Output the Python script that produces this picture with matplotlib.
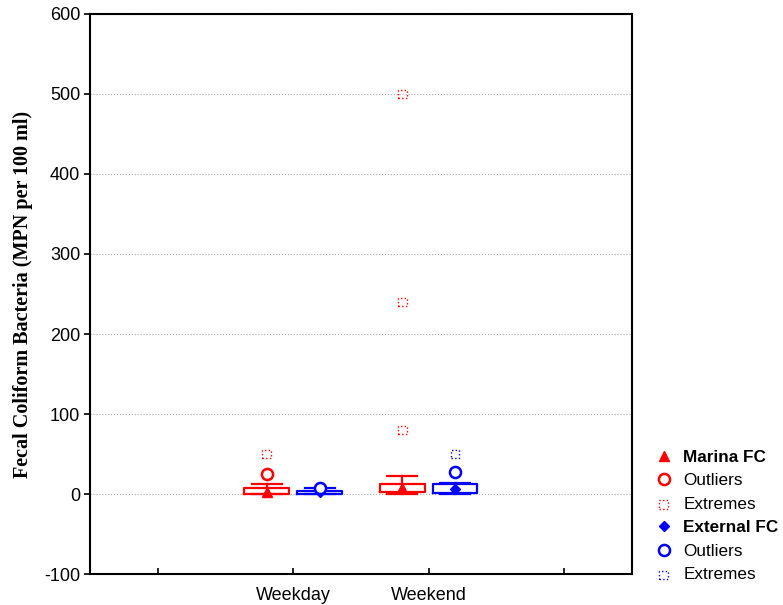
import matplotlib
matplotlib.use("Agg")
import matplotlib.pyplot as plt
from matplotlib.lines import Line2D

RED = "#ff0000"
BLUE = "#0000ff"
SANS = "Liberation Sans"
SERIF = "Liberation Serif"

categories = ["Weekday", "Weekend"]
cat_pos = [1, 2]

# box stats (MPN per 100 ml)
marina_q1 = [0, 3]
marina_q3 = [8, 13]
marina_lo = [0, 0]
marina_hi = [13, 23]
marina_med = [2, 7]
marina_out = [[25], []]
marina_ext = [[50], [80, 240, 500]]

external_q1 = [0, 1]
external_q3 = [4, 13]
external_lo = [0, 0]
external_hi = [7, 14]
external_med = [2, 6]
external_out = [[8], [28]]
external_ext = [[], [50]]

y_ticks = [-100, 0, 100, 200, 300, 400, 500, 600]

OFFSET = 0.195
BOX_W = 0.33
CAP_W = 0.22
EXT_S = 40

fig = plt.figure(figsize=(7.83, 6.05), dpi=100, facecolor="white")
ax = fig.add_axes([0.115, 0.0512, 0.692, 0.9257])


def draw_group(pos, q1, q3, lo, hi, med, outl, ext, color, med_marker, med_size):
    stats = []
    for i in range(len(pos)):
        stats.append(dict(med=med[i], q1=q1[i], q3=q3[i],
                          whislo=lo[i], whishi=hi[i], fliers=[]))
    lp = dict(color=color, linewidth=1.6)
    ax.bxp(stats, positions=pos, widths=BOX_W, capwidths=CAP_W,
           showfliers=False, boxprops=lp, whiskerprops=lp, capprops=lp,
           medianprops=dict(linestyle="none"), manage_ticks=False)
    ax.plot(pos, med, linestyle="none", marker=med_marker, ms=med_size,
            color=color, zorder=4)
    for p, vals in zip(pos, outl):
        if vals:
            ax.plot([p] * len(vals), vals, linestyle="none", marker="o",
                    ms=8, mfc="white", mec=color, mew=1.8, zorder=4)
    for p, vals in zip(pos, ext):
        if vals:
            ax.scatter([p] * len(vals), vals, marker="s", s=EXT_S,
                       facecolors="none", edgecolors=color,
                       linestyles=":", linewidths=1.0, zorder=4)


draw_group([p - OFFSET for p in cat_pos], marina_q1, marina_q3, marina_lo,
           marina_hi, marina_med, marina_out, marina_ext, RED, "^", 7)
draw_group([p + OFFSET for p in cat_pos], external_q1, external_q3, external_lo,
           external_hi, external_med, external_out, external_ext, BLUE, "D", 5)

ax.set_xlim(-0.5, 3.5)
ax.set_ylim(-100, 600)
ax.set_xticks([0, 1, 2, 3])
ax.set_xticklabels(["", categories[0], categories[1], ""])
ax.set_yticks(y_ticks)
ax.set_yticklabels([str(v) for v in y_ticks])

ax.set_axisbelow(True)
ax.grid(axis="y", color="#aaaaaa", linewidth=0.8, linestyle=":")
for sp in ax.spines.values():
    sp.set_linewidth(1.5)
    sp.set_color("black")

ax.tick_params(axis="x", direction="in", length=4, width=1.2, pad=9)
ax.tick_params(axis="y", direction="out", length=4, width=1.2, pad=3)
for lab in ax.get_xticklabels() + ax.get_yticklabels():
    lab.set_fontfamily(SANS)
    lab.set_fontsize(13)

ax.set_ylabel("Fecal Coliform Bacteria (MPN per 100 ml)", fontfamily=SERIF,
              fontweight="bold", fontsize=14.5, labelpad=8)

handles = [
    Line2D([], [], linestyle="none", marker="^", ms=7, color=RED),
    Line2D([], [], linestyle="none", marker="o", ms=8, mfc="white", mec=RED, mew=1.8),
    ax.scatter([], [], marker="s", s=EXT_S, facecolors="none", edgecolors=RED,
               linestyles=":", linewidths=1.0),
    Line2D([], [], linestyle="none", marker="D", ms=5, color=BLUE),
    Line2D([], [], linestyle="none", marker="o", ms=8, mfc="white", mec=BLUE, mew=1.8),
    ax.scatter([], [], marker="s", s=EXT_S, facecolors="none", edgecolors=BLUE,
               linestyles=":", linewidths=1.0),
]
labels = ["Marina FC", "Outliers", "Extremes", "External FC", "Outliers", "Extremes"]
leg = fig.legend(handles, labels, loc="upper left", bbox_to_anchor=(0.828, 0.268),
                 frameon=False, prop=dict(family=SANS, size=12.3),
                 handlelength=1.0, handletextpad=0.65, labelspacing=0.5,
                 borderaxespad=0)
leg.get_texts()[0].set_fontweight("bold")
leg.get_texts()[3].set_fontweight("bold")

fig.savefig("out.png", dpi=100, facecolor="white")
